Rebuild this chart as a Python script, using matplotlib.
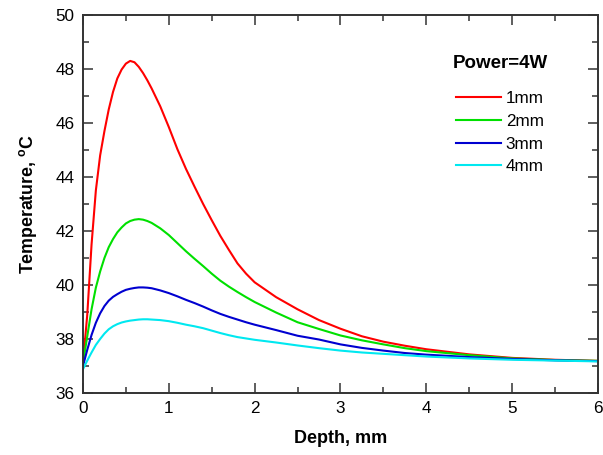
import numpy as np
import matplotlib.pyplot as plt
from matplotlib.ticker import MultipleLocator

plt.rcParams['font.family'] = ['Liberation Sans', 'DejaVu Sans']

# depth grid (mm)
depth = [0, 0.05, 0.1, 0.15, 0.2, 0.25, 0.3, 0.35, 0.4, 0.45, 0.5, 0.55, 0.6, 0.65,
         0.7, 0.75, 0.8, 0.9, 1.0, 1.1, 1.2, 1.3, 1.4, 1.5, 1.6, 1.7, 1.8, 1.9, 2.0,
         2.25, 2.5, 2.75, 3.0, 3.25, 3.5, 3.75, 4.0, 4.5, 5.0, 5.5, 6.0]

# temperature curves (deg C)
t_1mm = [37.1, 38.9, 41.5, 43.5, 44.8, 45.7, 46.5, 47.15, 47.65, 47.98, 48.2, 48.3,
         48.25, 48.08, 47.85, 47.58, 47.28, 46.62, 45.85, 45.03, 44.3, 43.64, 43.0,
         42.4, 41.82, 41.3, 40.8, 40.42, 40.1, 39.55, 39.1, 38.7, 38.38, 38.1, 37.9,
         37.75, 37.62, 37.43, 37.3, 37.23, 37.19]
t_2mm = [37.1, 38.1, 39.1, 39.9, 40.5, 41.0, 41.4, 41.7, 41.95, 42.13, 42.28, 42.37,
         42.42, 42.44, 42.42, 42.37, 42.3, 42.1, 41.85, 41.55, 41.25, 40.97, 40.7,
         40.42, 40.16, 39.94, 39.74, 39.55, 39.37, 38.98, 38.62, 38.37, 38.13, 37.95,
         37.8, 37.66, 37.55, 37.4, 37.28, 37.22, 37.19]
t_3mm = [37.0, 37.6, 38.15, 38.6, 38.95, 39.22, 39.42, 39.56, 39.66, 39.75, 39.82,
         39.86, 39.89, 39.91, 39.91, 39.9, 39.88, 39.8, 39.7, 39.58, 39.45, 39.33,
         39.2, 39.06, 38.93, 38.82, 38.72, 38.62, 38.53, 38.33, 38.12, 37.98, 37.8,
         37.67, 37.57, 37.48, 37.42, 37.33, 37.26, 37.21, 37.18]
t_4mm = [36.88, 37.2, 37.5, 37.78, 38.0, 38.2, 38.36, 38.47, 38.55, 38.61, 38.65,
         38.68, 38.7, 38.72, 38.73, 38.73, 38.72, 38.7, 38.66, 38.6, 38.53, 38.47,
         38.4, 38.31, 38.22, 38.14, 38.07, 38.02, 37.97, 37.87, 37.76, 37.66, 37.57,
         37.5, 37.45, 37.4, 37.35, 37.28, 37.23, 37.2, 37.17]

labels = ['1mm', '2mm', '3mm', '4mm']
colors = ['#ff0000', '#00e000', '#0000d0', '#00e8f0']

fig = plt.figure(figsize=(6.03, 4.55), dpi=100)
ax = fig.add_axes([0.1376, 0.1363, 0.8541, 0.8307])

for y, lab, c in zip([t_1mm, t_2mm, t_3mm, t_4mm], labels, colors):
    ax.plot(depth, y, color=c, lw=1.5, label=lab)

ax.set_xlim(0, 6)
ax.set_ylim(36, 50)
ax.xaxis.set_major_locator(MultipleLocator(1))
ax.xaxis.set_minor_locator(MultipleLocator(0.5))
ax.yaxis.set_major_locator(MultipleLocator(2))
ax.yaxis.set_minor_locator(MultipleLocator(1))
ax.tick_params(which='both', direction='in', top=True, right=True,
               width=1.1, color='#333333', labelsize=12.3, pad=6)
ax.tick_params(which='major', length=7)
ax.tick_params(which='minor', length=4)
for s in ax.spines.values():
    s.set_linewidth(1.4)
    s.set_color('#333333')

ax.set_xlabel('Depth, mm', fontsize=13, fontweight='bold', labelpad=10)
ax.set_ylabel('Temperature, $^{\\mathregular{o}}$C', fontsize=12.8,
              fontweight='bold', labelpad=12)

leg = ax.legend(title='Power=4W', loc='upper right', bbox_to_anchor=(0.932, 0.935),
                frameon=False, fontsize=12.3, handlelength=2.6, handletextpad=0.3,
                labelspacing=0.45)
leg.get_title().set_fontweight('bold')
leg.get_title().set_fontsize(13.5)
leg._legend_box.sep = 14

plt.savefig('out.png', dpi=100)
